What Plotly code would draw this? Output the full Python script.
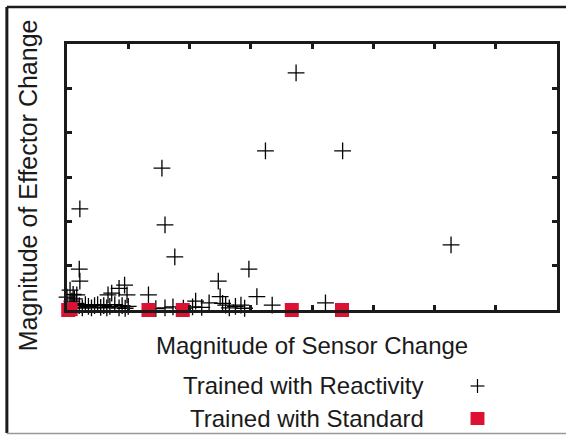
import plotly.graph_objects as go

# ---- data ----
reactivity_x = [3.74, 3.24, 4.50, 1.55, 0.21, 1.60, 1.76, 6.27, 2.97, 0.20,
                0.21, 2.47, 0.94, 0.85, 0.98, 0.73, 1.33, 2.50, 3.10, 2.10,
                2.54, 2.84, 3.35, 1.73, 4.22, 0.67, 0.00, 0.16, 2.32, 2.59,
                2.05, 0.05, 0.08, 0.12, 0.15, 0.20, 0.25, 0.30, 0.35, 0.40,
                0.45, 0.50, 0.55, 0.60, 0.65, 0.70, 0.78, 0.85, 0.90, 0.95,
                1.00, 0.10, 0.05, 0.12, 1.45, 1.60, 1.90, 2.20, 2.65, 2.90,
                2.75]
reactivity_y = [5.35, 3.59, 3.59, 3.20, 2.28, 1.92, 1.20, 1.47, 0.92, 0.92,
                0.65, 0.65, 0.56, 0.49, 0.34, 0.38, 0.34, 0.30, 0.30, 0.20,
                0.15, 0.11, 0.11, 0.07, 0.16, 0.34, 0.29, 0.34, 0.16, 0.11,
                0.07, 0.10, 0.20, 0.05, 0.15, 0.10, 0.05, 0.12, 0.08, 0.05,
                0.10, 0.12, 0.06, 0.10, 0.05, 0.08, 0.12, 0.05, 0.10, 0.04,
                0.08, 0.35, 0.45, 0.25, 0.03, 0.05, 0.04, 0.06, 0.05, 0.04,
                0.08]
standard_x = [0.02, 0.06, 1.33, 1.89, 3.67, 4.49]
standard_y = [0.0, 0.02, 0.0, 0.0, 0.0, 0.0]

series_names = ["Trained with Reactivity", "Trained with Standard"]
x_title = "Magnitude of Sensor Change"
y_title = "Magnitude of Effector Change"
x_range = [0, 8]
y_range = [0, 6]

# ---- layout geometry (pixels) ----
W, H = 566, 435
L, R, T, B = 67, 6, 44, 125
PW, PH = W - L - R, H - T - B
RED = "#dd1133"
FONT = "Liberation Sans, Arial, Helvetica, sans-serif"


def px(xp):
    return (xp - L) / PW


def py(yp):
    return (H - B - yp) / PH


fig = go.Figure()
fig.add_trace(go.Scatter(
    x=reactivity_x, y=reactivity_y, mode="markers", name=series_names[0],
    marker=dict(symbol="cross-thin", size=12, color="black",
                line=dict(color="black", width=1.3)),
    cliponaxis=False, showlegend=False))
fig.add_trace(go.Scatter(
    x=standard_x, y=standard_y, mode="markers", name=series_names[1],
    marker=dict(symbol="square", size=14, color=RED, line=dict(width=0)),
    cliponaxis=False, showlegend=False))

axis_common = dict(showgrid=False, zeroline=False, showticklabels=False,
                   showline=True, linecolor="#1a1a1a", linewidth=3,
                   mirror="ticks", ticks="inside", ticklen=5, tickwidth=3,
                   tickcolor="#1a1a1a")
fig.update_xaxes(range=x_range, dtick=1, **axis_common)
fig.update_yaxes(range=y_range, dtick=1, **axis_common)

shapes = [
    # outer frame
    dict(type="line", xref="paper", yref="paper", x0=px(6.5), x1=px(6.5),
         y0=py(7), y1=py(433), line=dict(color="#1a1a1a", width=3)),
    dict(type="line", xref="paper", yref="paper", x0=px(6.5), x1=px(570),
         y0=py(7), y1=py(7), line=dict(color="#1a1a1a", width=2.5)),
    dict(type="line", xref="paper", yref="paper", x0=px(6.5), x1=px(570),
         y0=py(433.5), y1=py(433.5), line=dict(color="#999999", width=1.5)),
    # legend symbols
    dict(type="line", xref="paper", yref="paper", x0=px(473), x1=px(487),
         y0=py(386), y1=py(386), line=dict(color="black", width=1.2)),
    dict(type="line", xref="paper", yref="paper", x0=px(480), x1=px(480),
         y0=py(379), y1=py(393), line=dict(color="black", width=1.2)),
    dict(type="rect", xref="paper", yref="paper", x0=px(473), x1=px(487),
         y0=py(412), y1=py(425), fillcolor=RED, line=dict(width=0)),
]

annotations = [
    dict(text=x_title, xref="paper", yref="paper", x=0.5, y=py(345),
         xanchor="center", yanchor="middle", showarrow=False,
         font=dict(size=24, color="#1a1a1a", family=FONT)),
    dict(text=y_title, xref="paper", yref="paper", x=px(27.5), y=py(185.5),
         xanchor="center", yanchor="middle", showarrow=False, textangle=-90,
         font=dict(size=25, color="#1a1a1a", family=FONT)),
    dict(text=series_names[0], xref="paper", yref="paper", x=px(428), y=py(385),
         xanchor="right", yanchor="middle", showarrow=False,
         font=dict(size=24, color="#1a1a1a", family=FONT)),
    dict(text=series_names[1], xref="paper", yref="paper", x=px(428), y=py(418.5),
         xanchor="right", yanchor="middle", showarrow=False,
         font=dict(size=24, color="#1a1a1a", family=FONT)),
]

fig.update_layout(
    width=W, height=H, margin=dict(l=L, r=R, t=T, b=B, pad=0),
    paper_bgcolor="white", plot_bgcolor="white",
    shapes=shapes, annotations=annotations, showlegend=False,
    font=dict(family=FONT),
)

fig.write_html("out.html")
